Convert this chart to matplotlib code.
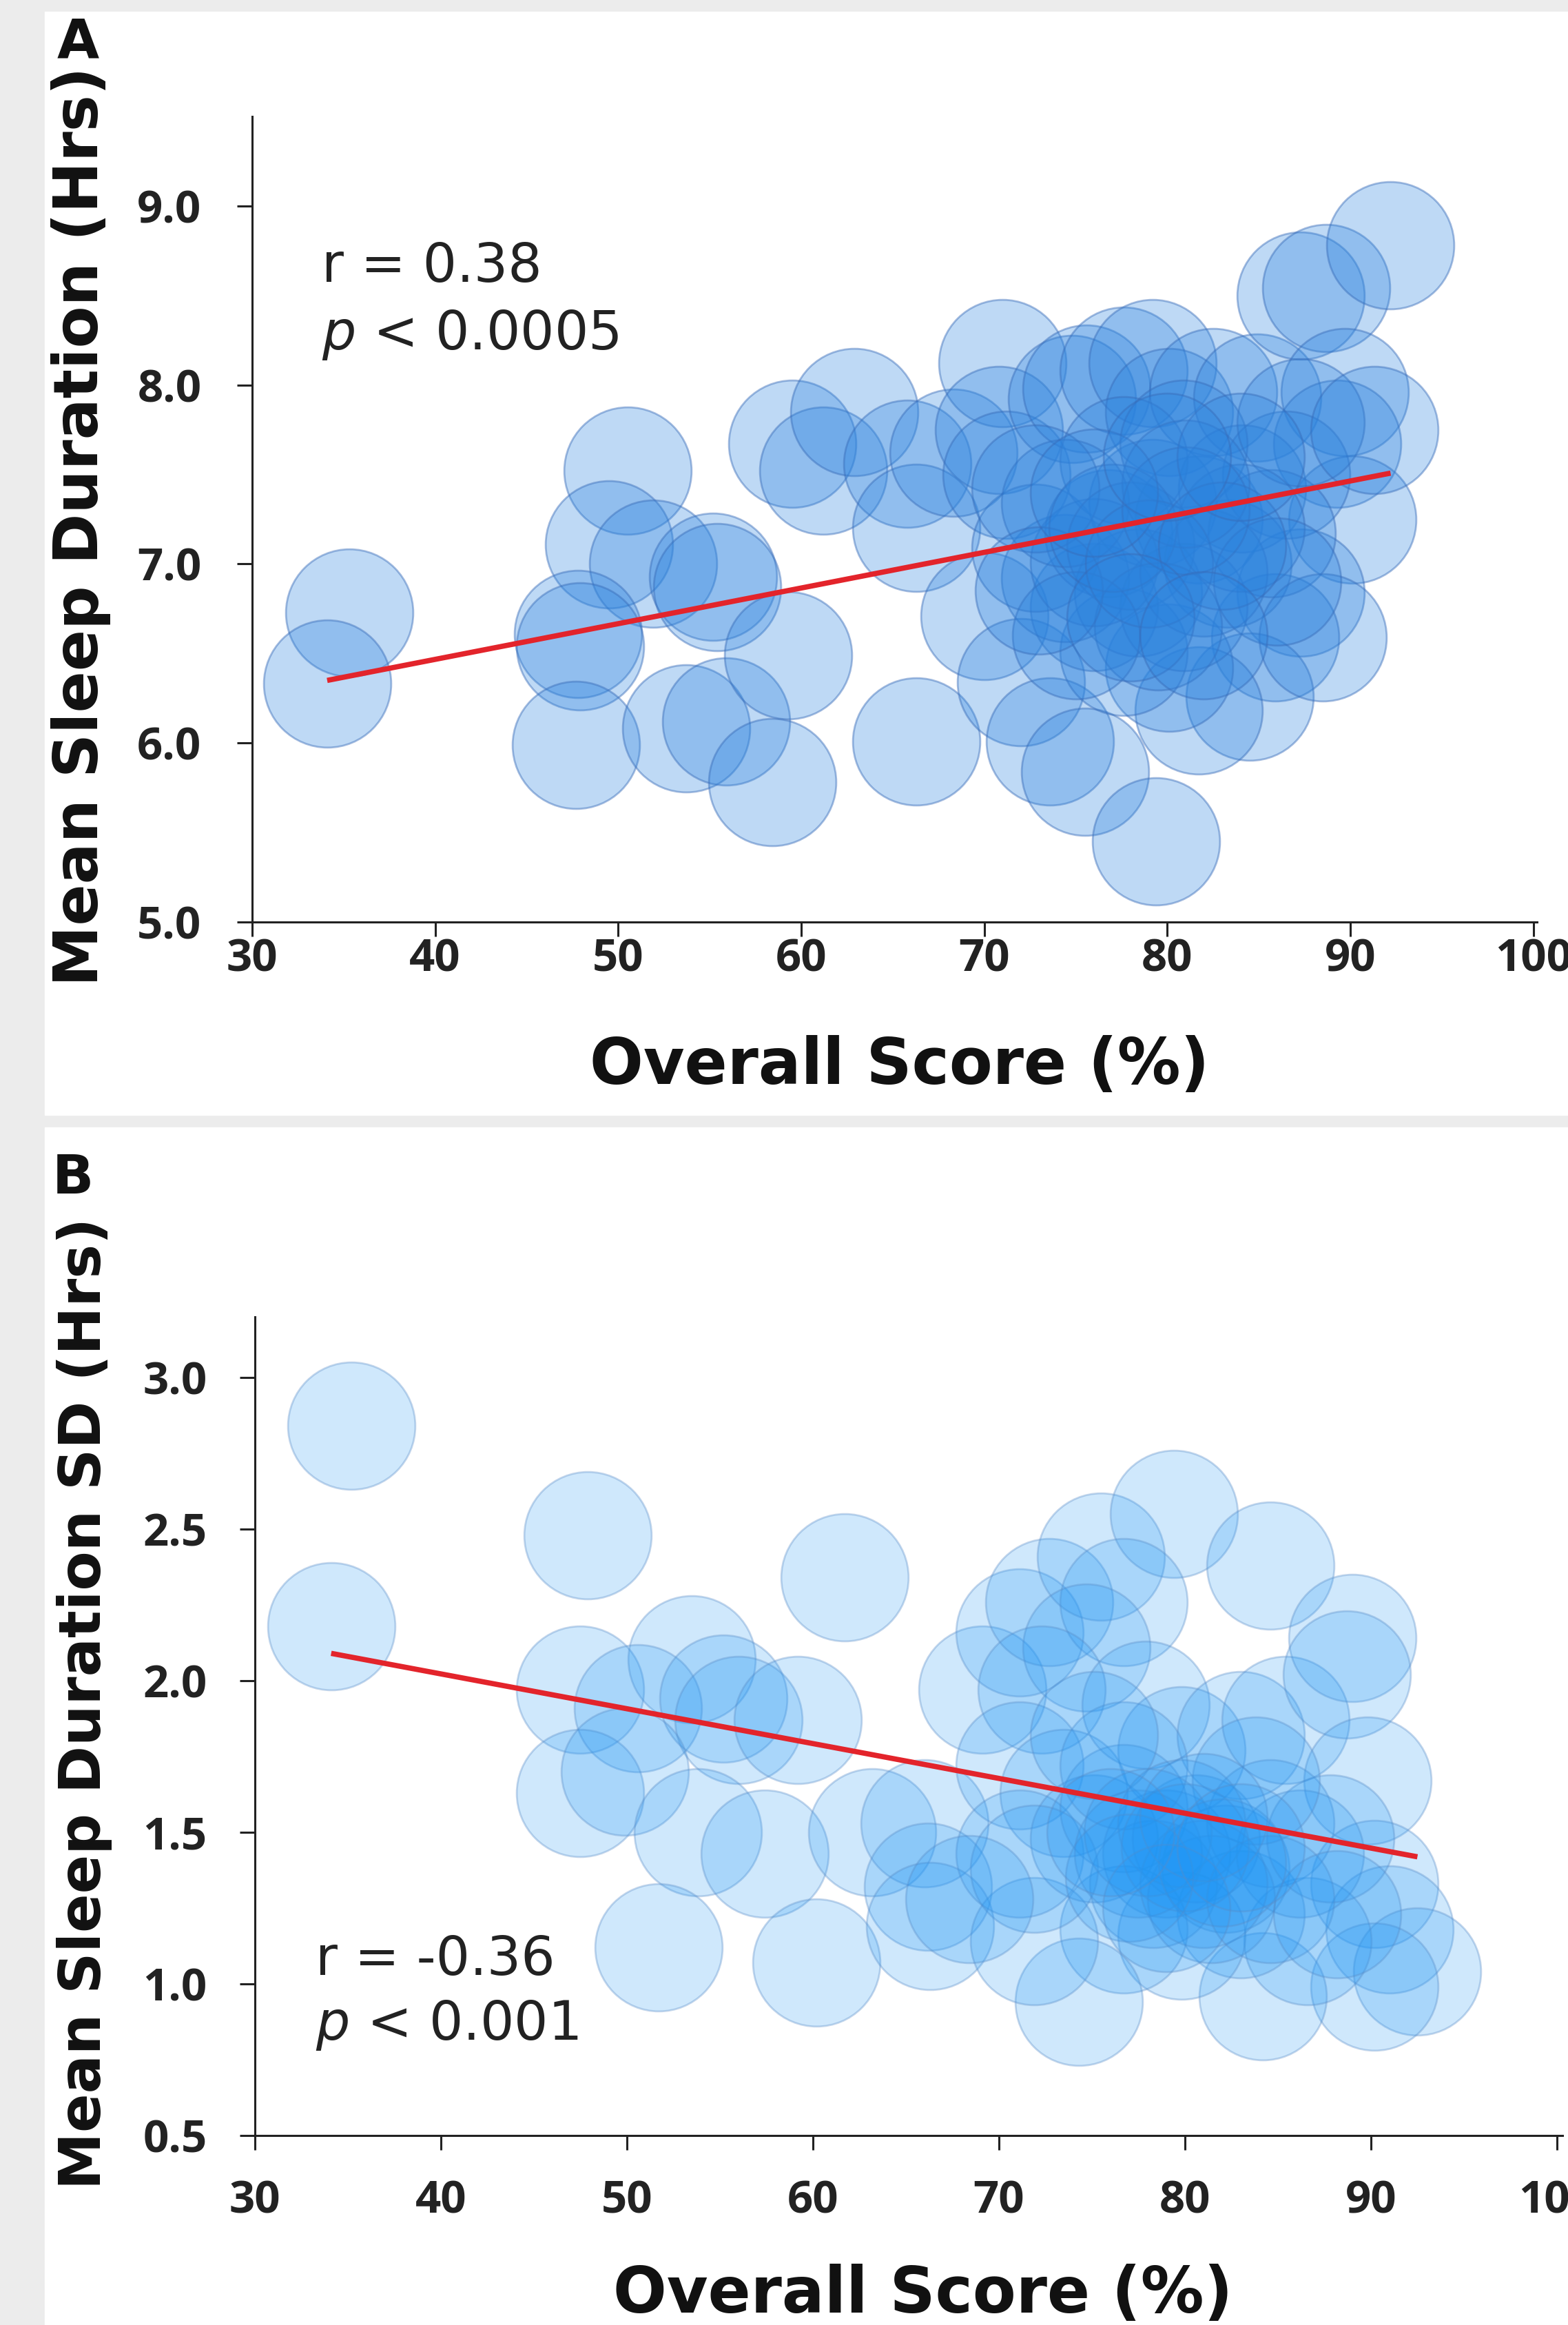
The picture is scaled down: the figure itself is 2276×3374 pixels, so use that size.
import numpy as np
import matplotlib.pyplot as plt
from matplotlib.patches import Rectangle

# ---- panel A: mean sleep duration vs overall score
score_a = [35.3, 34.1, 50.5, 49.5, 51.9, 55.2, 55.4, 47.8, 47.9, 47.7,
           53.7, 55.9, 58.4, 59.3, 59.5, 61.2, 62.9, 65.8, 66.3, 66.3,
           68.3, 71.0, 70.8, 71.2, 70.0, 72.0, 73.6, 75.5, 79.4, 74.8,
           75.6, 77.6, 79.2, 80.1, 82.5, 84.9, 87.3, 88.7, 92.2, 89.7,
           89.3, 90.1, 87.3, 85.9, 84.5, 81.7, 80.1, 77.6, 76.0, 74.4,
           72.8, 76.8, 79.2, 81.7, 84.1, 86.5, 77.6, 80.9, 83.3, 85.7,
           78.4, 80.9, 76.0, 74.4, 72.8, 87.3, 91.3, 88.5, 78.0, 82.0,
           84.0, 79.5, 75.0, 86.0, 73.0, 81.0, 77.0, 79.0, 81.0, 83.0,
           78.0, 82.0, 76.0, 84.0, 80.0]
sleep_a = [6.73, 6.33, 7.52, 7.11, 7.00, 6.93, 6.87, 6.61, 6.54, 5.99,
           6.08, 6.12, 5.78, 6.49, 7.67, 7.52, 7.85, 7.56, 7.20, 6.01,
           7.62, 8.12, 7.75, 7.50, 6.71, 6.34, 6.01, 5.84, 5.45, 7.92,
           7.98, 8.08, 8.12, 7.85, 7.96, 7.93, 8.50, 8.54, 8.78, 7.96,
           7.67, 7.25, 6.84, 6.59, 6.26, 6.18, 6.42, 6.51, 6.76, 6.92,
           7.09, 7.17, 7.34, 7.25, 7.42, 7.50, 7.58, 7.67, 7.00, 7.17,
           6.84, 6.76, 7.01, 7.34, 7.42, 7.79, 7.75, 6.59, 7.10, 6.95,
           7.20, 6.65, 6.60, 6.90, 6.85, 7.45, 7.20, 7.00, 7.30, 7.10,
           6.70, 6.60, 7.40, 7.60, 7.60]
fit_a = (5.670, 0.01993)   # intercept, slope

# ---- panel B: sleep duration SD vs overall score
score_b = [35.2, 34.1, 47.9, 61.7, 47.5, 53.5, 50.6, 55.2, 56.0, 59.2,
           47.5, 49.9, 53.8, 57.4, 51.7, 60.2, 63.2, 66.0, 66.2, 66.3,
           69.1, 71.1, 72.7, 75.5, 79.4, 84.6, 76.7, 74.7, 72.3, 71.1,
           73.5, 77.9, 79.8, 83.0, 85.4, 89.0, 88.7, 89.8, 90.2, 91.0,
           92.5, 90.2, 84.2, 86.6, 83.0, 79.8, 76.7, 74.3, 71.9, 71.1,
           75.1, 76.7, 79.0, 80.6, 82.2, 84.6, 86.2, 87.8, 78.3, 81.4,
           83.8, 76.7, 75.1, 71.9, 77.5, 79.8, 81.0, 84.6, 88.2, 68.4,
           78.0, 80.0, 82.0, 77.0, 81.0, 79.0, 83.0, 76.0]
sd_b = [2.84, 2.18, 2.48, 2.34, 1.97, 2.07, 1.91, 1.94, 1.87, 1.87,
        1.63, 1.70, 1.50, 1.43, 1.12, 1.07, 1.50, 1.53, 1.32, 1.19,
        1.97, 2.16, 2.26, 2.41, 2.55, 2.38, 2.26, 2.11, 1.97, 1.72,
        1.63, 1.92, 1.77, 1.82, 1.87, 2.14, 2.02, 1.67, 1.33, 1.18,
        1.04, 0.99, 0.96, 1.14, 1.23, 1.16, 1.18, 0.94, 1.14, 1.43,
        1.48, 1.58, 1.43, 1.48, 1.38, 1.53, 1.43, 1.48, 1.33, 1.28,
        1.67, 1.72, 1.82, 1.38, 1.43, 1.53, 1.33, 1.28, 1.23, 1.28,
        1.50, 1.45, 1.40, 1.35, 1.55, 1.25, 1.45, 1.50]
fit_b = (2.482, -0.01149)

xticks = [30, 40, 50, 60, 70, 80, 90, 100]
yticks_a = [5.0, 6.0, 7.0, 8.0, 9.0]
yticks_b = [0.5, 1.0, 1.5, 2.0, 2.5, 3.0]

W, H = 2276, 3374
fig = plt.figure(figsize=(W / 100, H / 100), dpi=100)
fig.patch.set_facecolor('#ececec')

# white panel backgrounds
fig.patches.append(Rectangle((65 / W, 1 - 1618 / H), 1, (1618 - 17) / H,
                             transform=fig.transFigure, color='white', zorder=-10))
fig.patches.append(Rectangle((65 / W, 0), 1, 1 - 1636 / H,
                             transform=fig.transFigure, color='white', zorder=-10))


def style_axes(ax, yticks, xpad, ypad):
    ax.set_facecolor('none')
    for s in ['top', 'right']:
        ax.spines[s].set_visible(False)
    for s in ['left', 'bottom']:
        ax.spines[s].set_linewidth(2.2)
        ax.spines[s].set_color('#222222')
    ax.set_xticks(xticks)
    ax.set_xticklabels([str(t) for t in xticks])
    ax.set_yticks(yticks)
    ax.set_yticklabels(['%.1f' % t for t in yticks])
    ax.tick_params(axis='x', direction='out', length=15, width=2.2,
                   color='#222222', pad=xpad)
    ax.tick_params(axis='y', direction='out', length=16, width=2.2,
                   color='#222222', pad=ypad)
    for lab in ax.get_xticklabels() + ax.get_yticklabels():
        lab.set_fontfamily(['Open Sans', 'DejaVu Sans'])
        lab.set_fontweight('bold')
        lab.set_fontsize(47)
        lab.set_color('#222222')


# ---- panel A
axA = fig.add_axes([366 / W, 1 - 1338 / H, (2231 - 366) / W, (1338 - 169) / H])
axA.scatter(score_a, sleep_a, s=17700, color=(0.16, 0.51, 0.87, 0.3),
            edgecolor=(0.22, 0.42, 0.72, 0.45), linewidth=2, zorder=2)
xa = np.array([min(score_a), max(score_a)])
axA.plot(xa, fit_a[0] + fit_a[1] * xa, color='#e3242b', lw=5.5, zorder=3,
         solid_capstyle='butt')
axA.set_xlim(30, 100.2)
axA.set_ylim(5.0, 9.5)
style_axes(axA, yticks_a, xpad=1, ypad=37)
axA.text(467 / W, 1 - 387 / H, 'r = 0.38', transform=fig.transFigure,
         fontsize=56, va='center', ha='left', color='#222222')
axA.text(467 / W, 1 - 486 / H, r'$p$ < 0.0005', transform=fig.transFigure,
         fontsize=56, va='center', ha='left', color='#222222')

# ---- panel B
axB = fig.add_axes([370 / W, 1 - 3099 / H, (2268 - 370) / W, (3099 - 1911) / H])
axB.scatter(score_b, sd_b, s=17700, color=(0.12, 0.59, 0.96, 0.21),
            edgecolor=(0.35, 0.55, 0.78, 0.35), linewidth=2, zorder=2)
xb = np.array([min(score_b), max(score_b)])
axB.plot(xb, fit_b[0] + fit_b[1] * xb, color='#e3242b', lw=5.5, zorder=3,
         solid_capstyle='butt')
axB.set_xlim(30, 100.3)
axB.set_ylim(0.5, 3.2)
style_axes(axB, yticks_b, xpad=31, ypad=34)
axB.text(458 / W, 1 - 2844 / H, 'r = -0.36', transform=fig.transFigure,
         fontsize=56, va='center', ha='left', color='#222222')
axB.text(458 / W, 1 - 2939 / H, r'$p$ < 0.001', transform=fig.transFigure,
         fontsize=56, va='center', ha='left', color='#222222')

# axis labels and panel letters
lab = dict(fontweight='bold', color='#111111', ha='center', va='center')
fig.text(118 / W, 1 - 764 / H, 'Mean Sleep Duration (Hrs)', rotation=90,
         fontsize=64, **lab)
fig.text(1306 / W, 1 - 1547 / H, 'Overall Score (%)', fontsize=66, **lab)
fig.text(123 / W, 1 - 2472 / H, 'Mean Sleep Duration SD (Hrs)', rotation=90,
         fontsize=60, **lab)
fig.text(1340 / W, 1 - 3330 / H, 'Overall Score (%)', fontsize=66, **lab)
fig.text(113 / W, 1 - 61 / H, 'A', fontsize=57, **lab)
fig.text(106 / W, 1 - 1710 / H, 'B', fontsize=57, **lab)

fig.savefig('out.png', dpi=100, facecolor=fig.get_facecolor())
